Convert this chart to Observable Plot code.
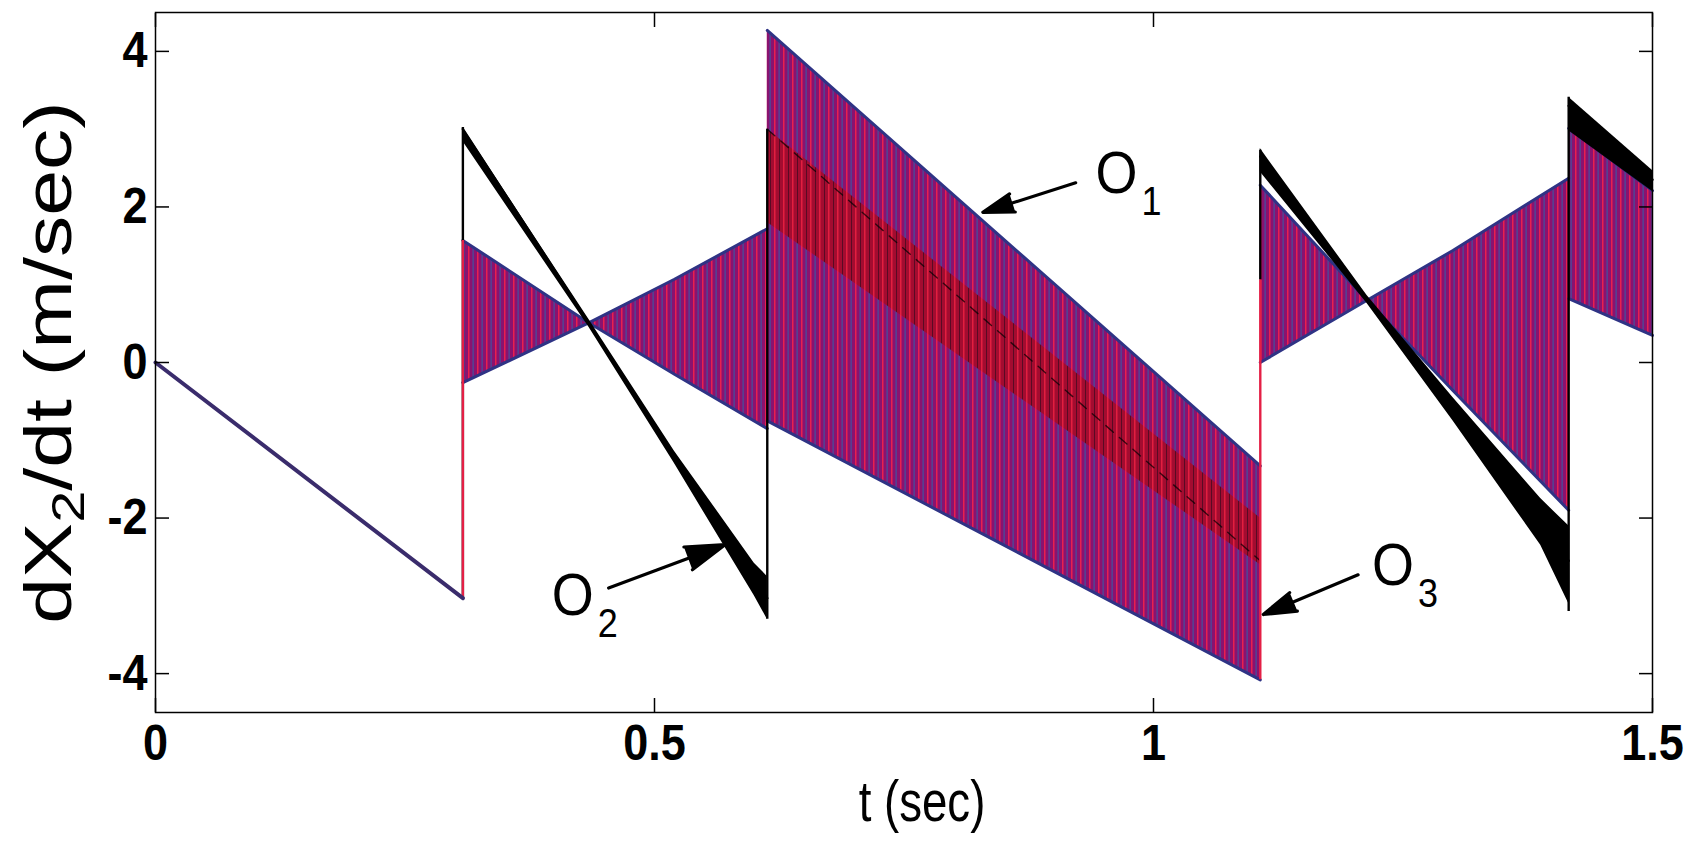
<!DOCTYPE html>
<html><head><meta charset="utf-8">
<script src="https://cdn.jsdelivr.net/npm/d3@7"></script>
<script src="https://cdn.jsdelivr.net/npm/@observablehq/plot@0.6"></script>
<style>
html,body{margin:0;padding:0;background:#fff;}
#chart{width:1700px;height:843px;}
</style></head><body><div id="chart"></div>
<script>
// ---------------- data ----------------
const xTicks = [0, 0.5, 1, 1.5];
const yTicks = [-4, -2, 0, 2, 4];

// common initial ramp (all responses coincide)
const rampT = [0, 0.308];
const rampV = [0, -3.03];

// oscillating responses: envelope edges A and B per segment
const bandSeg = ["b", "b", "b", "b", "m", "m", "c", "c", "c", "c", "d", "d"];
const bandT   = [0.308, 0.434, 0.52, 0.613, 0.613, 1.107, 1.107, 1.214, 1.30, 1.416, 1.416, 1.5];
const bandA   = [1.57, 0.51, -0.15, -0.85, 4.27, -1.33, 2.28, 0.80, -0.36, -1.90, 3.01, 2.21];
const bandB   = [-0.26, 0.51, 1.07, 1.72, -0.75, -4.08, 0.00, 0.80, 1.44, 2.37, 0.82, 0.35];

// dense dark-red core inside the middle segment
const coreT  = [0.613, 1.107];
const coreHi = [3.0, -2.0];
const coreLo = [1.8, -2.6];

// black response inside the middle segment
const midT = [0.613, 1.107];
const midV = [3.0, -2.55];

// black response (O2) centre line per segment
const blackSeg = ["a", "a", "a", "c", "c", "c", "d", "d"];
const blackT   = [0.308, 0.434, 0.613, 1.107, 1.214, 1.416, 1.416, 1.5];
const blackV   = [3.0, 0.51, -3.03, 2.65, 0.80, -2.55, 3.30, 2.35];

// black response ripple spread (upper / lower)
const spreadSeg = ["a", "a", "a", "a", "a", "c", "c", "c", "c", "c", "d", "d"];
const spreadT   = [0.308, 0.434, 0.52, 0.60, 0.613, 1.107, 1.214, 1.30, 1.388, 1.416, 1.416, 1.5];
const spreadHi  = [3.02, 0.56, -1.14, -2.58, -2.75, 2.75, 0.86, -0.45, -1.75, -2.10, 3.41, 2.47];
const spreadLo  = [2.84, 0.46, -1.30, -3.00, -3.30, 2.45, 0.76, -0.75, -2.35, -3.10, 2.98, 2.20];

// vertical jumps
const jumpT     = [0.308, 0.613, 1.107, 1.416, 0.308, 1.107];
const jumpLo    = [-3.03, -3.30, 1.06, -3.20, -3.03, -4.08];
const jumpHi    = [3.02, 3.00, 2.73, 3.41, 1.57, 1.06];
const jumpColor = ["black", "black", "black", "black", "#e41f45", "#e41f45"];

// annotations
const annMain = ["O", "O", "O"];
const annSub  = ["1", "2", "3"];
const annT    = [0.963, 0.418, 1.240];
const annV    = [2.42, -3.00, -2.62];
const arrT1   = [0.922, 0.454, 1.205];
const arrV1   = [2.31, -2.90, -2.73];
const arrT2   = [0.829, 0.571, 1.110];
const arrV2   = [1.93, -2.34, -3.24];

// ---------------- build rows ----------------
const rampRows   = rampT.map((t, i) => ({t, v: rampV[i]}));
const bandRows   = bandT.map((t, i) => ({seg: bandSeg[i], t, a: bandA[i], b: bandB[i]}));
const coreRows   = coreT.map((t, i) => ({t, hi: coreHi[i], lo: coreLo[i]}));
const midRows    = midT.map((t, i) => ({t, v: midV[i]}));
const blackRows  = blackT.map((t, i) => ({seg: blackSeg[i], t, v: blackV[i]}));
const spreadRows = spreadT.map((t, i) => ({seg: spreadSeg[i], t, hi: spreadHi[i], lo: spreadLo[i]}));
const jumpRows   = jumpT.map((t, i) => ({t, lo: jumpLo[i], hi: jumpHi[i], c: jumpColor[i]}));
const annRows    = annT.map((t, i) => ({t, v: annV[i], main: annMain[i], sub: annSub[i]}));
const arrRows    = arrT1.map((t, i) => ({t1: t, v1: arrV1[i], t2: arrT2[i], v2: arrV2[i]}));

const edge = "#2f3385";

const svg = Plot.plot({
  width: 1700, height: 843,
  marginLeft: 155, marginRight: 48, marginTop: 12, marginBottom: 131,
  style: {fontFamily: "'Liberation Sans', Arial, sans-serif", background: "white", color: "black"},
  x: {domain: [0, 1.5]},
  y: {domain: [-4.5, 4.5]},
  color: {type: "identity"},
  marks: [
    Plot.areaY(bandRows, {x: "t", y1: "a", y2: "b", z: "seg", fill: "url(#osc)"}),
    Plot.areaY(coreRows, {x: "t", y1: "lo", y2: "hi", fill: "url(#oscDark)"}),
    Plot.line(midRows, {x: "t", y: "v", stroke: "black", strokeWidth: 1.4, strokeOpacity: 0.7, strokeDasharray: "10,8"}),
    Plot.line(bandRows, {x: "t", y: "a", z: "seg", stroke: edge, strokeWidth: 3}),
    Plot.line(bandRows, {x: "t", y: "b", z: "seg", stroke: edge, strokeWidth: 3}),
    Plot.ruleX(jumpRows, {x: "t", y1: "lo", y2: "hi", stroke: "c", strokeWidth: 2.4}),
    Plot.areaY(spreadRows, {x: "t", y1: "lo", y2: "hi", z: "seg", fill: "black"}),
    Plot.line(blackRows, {x: "t", y: "v", z: "seg", stroke: "black", strokeWidth: 2.5}),
    Plot.line(rampRows, {x: "t", y: "v", stroke: "#3a2c6c", strokeWidth: 4}),
    Plot.arrow(arrRows, {x1: "t1", y1: "v1", x2: "t2", y2: "v2", stroke: "black", strokeWidth: 3.2, headLength: 24, headAngle: 34, ariaDescription: "arrows"}),
    Plot.text(annRows, {x: "t", y: "v", text: "main", fontSize: 60, fill: "black", ariaDescription: "annot"}),
    Plot.text(annRows, {x: "t", y: "v", text: "sub", fontSize: 40, dx: 35, dy: 28, fill: "black", ariaDescription: "annot"}),
    Plot.frame({stroke: "black", strokeWidth: 1.5}),
    Plot.axisY({ticks: yTicks, tickSize: -14, tickPadding: 22, fontSize: 50, fontWeight: "bold", label: null, tickFormat: d => String(d), strokeWidth: 1.5, ariaDescription: "ticklab"}),
    Plot.axisY({anchor: "right", ticks: yTicks, tickSize: -14, label: null, tickFormat: () => "", strokeWidth: 1.5}),
    Plot.axisX({ticks: xTicks, tickSize: -14, tickPadding: 26, fontSize: 50, fontWeight: "bold", label: null, tickFormat: d => String(d), strokeWidth: 1.5, ariaDescription: "ticklab"}),
    Plot.axisX({anchor: "top", ticks: xTicks, tickSize: -14, label: null, tickFormat: () => "", strokeWidth: 1.5}),
    Plot.text([0], {frameAnchor: "left", text: () => "dX2/dt (m/sec)", rotate: -90, dx: -106, fontSize: 66, textAnchor: "middle", lineAnchor: "middle", ariaDescription: "ylabel"}),
    Plot.text([0], {frameAnchor: "bottom", text: () => "t (sec)", dx: 18, dy: 90, fontSize: 57, textAnchor: "middle", lineAnchor: "middle", ariaDescription: "xlabel"})
  ]
});

// patterns emulating the dense red/blue oscillation
const root = d3.select(svg);
const defs = root.insert("defs", ":first-child");
const p1 = defs.append("pattern").attr("id", "osc").attr("patternUnits", "userSpaceOnUse").attr("width", 9).attr("height", 10);
p1.append("rect").attr("width", 9).attr("height", 10).attr("fill", "#8a126f");
p1.append("rect").attr("x", 0).attr("width", 1.5).attr("height", 10).attr("fill", "#e8204f");
p1.append("rect").attr("x", 4.5).attr("width", 1.2).attr("height", 10).attr("fill", "#42509f");
const p2 = defs.append("pattern").attr("id", "oscDark").attr("patternUnits", "userSpaceOnUse").attr("width", 9).attr("height", 10);
p2.append("rect").attr("width", 9).attr("height", 10).attr("fill", "#a30c30");
p2.append("rect").attr("x", 0).attr("width", 1.5).attr("height", 10).attr("fill", "#e21f40");
p2.append("rect").attr("x", 5).attr("width", 1.0).attr("height", 10).attr("fill", "#5a0a24");

// text proportions of the reference (vertically elongated glyphs)
function addScale(sel, s) {
  sel.each(function () {
    const t = this.getAttribute("transform") || "";
    this.setAttribute("transform", (t + " " + s).trim());
  });
}
addScale(root.selectAll('[aria-description="ticklab"] text'), "scale(0.9,1)");
addScale(root.selectAll('[aria-description="annot"] text'), "scale(0.9,1)");
addScale(root.selectAll('[aria-description="xlabel"] text'), "scale(0.8,1)");

// filled arrow heads
root.selectAll('[aria-description="arrows"] path').attr("fill", "black");

// y label with subscript
root.selectAll('[aria-description="ylabel"] text').each(function () {
  const el = d3.select(this);
  el.text(null);
  el.append("tspan").text("dX");
  el.append("tspan").attr("dy", "0.3em").attr("font-size", "0.7em").text("2");
  el.append("tspan").attr("dy", "-0.21em").text("/dt (m/sec)");
  const t = this.getAttribute("transform") || "";
  this.setAttribute("transform", (t + " scale(1.25,1)").trim());
});

document.getElementById("chart").appendChild(svg);
</script>
</body></html>
